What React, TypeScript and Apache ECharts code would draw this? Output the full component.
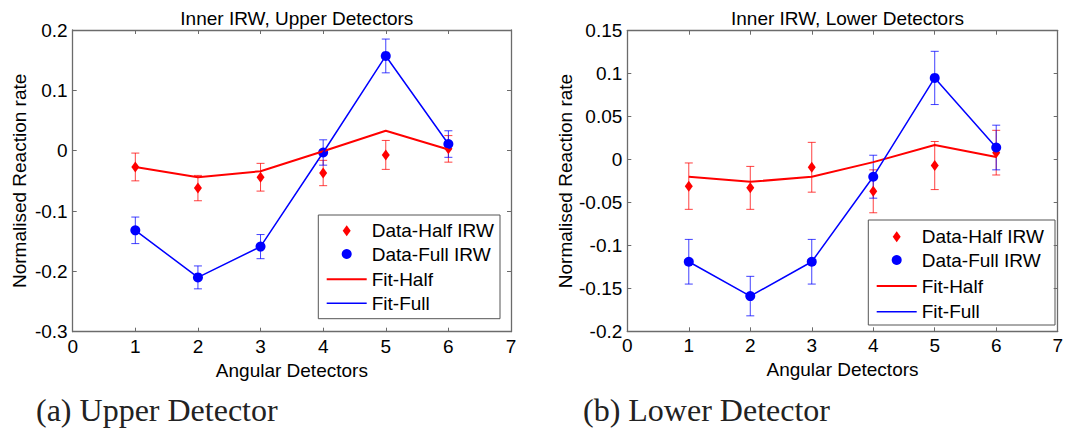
import React, { useEffect, useRef } from "react";
import * as echarts from "echarts";

// ---------- data ----------
const detectors = [1, 2, 3, 4, 5, 6];

// Upper detectors
const upperHalfData = [-0.027, -0.062, -0.044, -0.037, -0.007, 0.003];
const upperHalfErr = [0.023, 0.021, 0.023, 0.021, 0.024, 0.022];
const upperFullData = [-0.132, -0.21, -0.159, -0.003, 0.157, 0.011];
const upperFullErr = [0.022, 0.019, 0.02, 0.021, 0.028, 0.022];
const upperHalfFit = [-0.027, -0.044, -0.034, -0.001, 0.033, 0.002];
const upperFullFit = [-0.132, -0.21, -0.159, -0.003, 0.157, 0.011];

// Lower detectors
const lowerHalfData = [-0.031, -0.033, -0.009, -0.037, -0.007, 0.008];
const lowerHalfErr = [0.027, 0.025, 0.029, 0.025, 0.028, 0.026];
const lowerFullData = [-0.119, -0.159, -0.119, -0.02, 0.095, 0.014];
const lowerFullErr = [0.026, 0.023, 0.026, 0.025, 0.031, 0.026];
const lowerHalfFit = [-0.02, -0.026, -0.02, -0.003, 0.017, 0.003];
const lowerFullFit = [-0.119, -0.159, -0.119, -0.02, 0.095, 0.014];

const titles = ["Inner IRW, Upper Detectors", "Inner IRW, Lower Detectors"];
const captions = ["(a) Upper Detector", "(b) Lower Detector"];
const legendNames = ["Data-Half IRW", "Data-Full IRW", "Fit-Half", "Fit-Full"];
const xName = "Angular Detectors";
const yName = "Normalised Reaction rate";
const xRange = { min: 0, max: 7, interval: 1 };
const upperY = { min: -0.3, max: 0.2, interval: 0.1 };
const lowerY = { min: -0.2, max: 0.15, interval: 0.05 };

// ---------- styling ----------
const SANS = "Liberation Sans, Arial, Helvetica, sans-serif";
const SERIF = "Liberation Serif, Times New Roman, serif";
const RED = "#ff0000";
const BLUE = "#0000ff";
const AXIS = "#6b6b6b";
const FS = 19;

const grids = [
  { left: 72.7, top: 30, width: 438.3, height: 301.7 },
  { left: 627.3, top: 30.7, width: 430.4, height: 300.6 },
];

const pairs = (ys: number[]) => detectors.map((d, i) => [d, ys[i]]);
const errRows = (ys: number[], es: number[]) =>
  detectors.map((d, i) => [d, ys[i] - es[i], ys[i] + es[i]]);

const fmt = (v: number) => {
  const r = Math.round(v * 1000) / 1000;
  return String(r === 0 ? 0 : r);
};

function errSeries(idx: number, color: string, data: number[][]) {
  return {
    type: "custom",
    xAxisIndex: idx,
    yAxisIndex: idx,
    z: 2,
    silent: true,
    data,
    renderItem: (_p: any, api: any) => {
      const x = api.value(0);
      const lo = api.coord([x, api.value(1)]);
      const hi = api.coord([x, api.value(2)]);
      const w = 4;
      const style = { stroke: color, lineWidth: 1, opacity: 0.75 };
      return {
        type: "group",
        children: [
          { type: "line", shape: { x1: lo[0], y1: lo[1], x2: hi[0], y2: hi[1] }, style },
          { type: "line", shape: { x1: lo[0] - w, y1: lo[1], x2: lo[0] + w, y2: lo[1] }, style },
          { type: "line", shape: { x1: hi[0] - w, y1: hi[1], x2: hi[0] + w, y2: hi[1] }, style },
        ],
      };
    },
  };
}

function panelSeries(
  idx: number,
  halfData: number[],
  halfErr: number[],
  fullData: number[],
  fullErr: number[],
  halfFit: number[],
  fullFit: number[]
) {
  return [
    errSeries(idx, RED, errRows(halfData, halfErr)),
    errSeries(idx, BLUE, errRows(fullData, fullErr)),
    {
      name: legendNames[0],
      type: "scatter",
      xAxisIndex: idx,
      yAxisIndex: idx,
      symbol: "diamond",
      symbolSize: [8, 11],
      itemStyle: { color: RED, opacity: 1 },
      z: 3,
      data: pairs(halfData),
    },
    {
      name: legendNames[1],
      type: "scatter",
      xAxisIndex: idx,
      yAxisIndex: idx,
      symbol: "circle",
      symbolSize: 10,
      itemStyle: { color: BLUE, opacity: 1 },
      z: 3,
      data: pairs(fullData),
    },
    {
      name: legendNames[2],
      type: "line",
      xAxisIndex: idx,
      yAxisIndex: idx,
      showSymbol: false,
      lineStyle: { color: RED, width: 2 },
      z: 4,
      data: pairs(halfFit),
    },
    {
      name: legendNames[3],
      type: "line",
      xAxisIndex: idx,
      yAxisIndex: idx,
      showSymbol: false,
      lineStyle: { color: BLUE, width: 1.5 },
      z: 4,
      data: pairs(fullFit),
    },
  ];
}

function legendBox(x: number, y: number, w: number, h: number, rowYs: number[]) {
  const mx = x + 28.4;
  const children: any[] = [
    {
      type: "rect",
      shape: { x, y, width: w, height: h },
      style: { fill: "#ffffff", stroke: "#555555", lineWidth: 1 },
    },
    {
      type: "polygon",
      shape: {
        points: [
          [mx, rowYs[0] - 5.5],
          [mx + 4, rowYs[0]],
          [mx, rowYs[0] + 5.5],
          [mx - 4, rowYs[0]],
        ],
      },
      style: { fill: RED },
    },
    { type: "circle", shape: { cx: mx, cy: rowYs[1], r: 5 }, style: { fill: BLUE } },
    {
      type: "line",
      shape: { x1: x + 8.4, y1: rowYs[2], x2: x + 48.4, y2: rowYs[2] },
      style: { stroke: RED, lineWidth: 2 },
    },
    {
      type: "line",
      shape: { x1: x + 8.4, y1: rowYs[3], x2: x + 48.4, y2: rowYs[3] },
      style: { stroke: BLUE, lineWidth: 1.5 },
    },
  ];
  rowYs.forEach((ry, i) => {
    children.push({
      type: "text",
      x: x + 53.4,
      y: ry,
      style: {
        text: legendNames[i],
        font: `${FS}px ${SANS}`,
        fill: "#000",
        verticalAlign: "middle",
        align: "left",
      },
    });
  });
  return { type: "group", z: 10, children };
}

export default function App() {
  const ref = useRef<HTMLDivElement>(null);

  useEffect(() => {
    document.body.style.margin = "0";
    if (!ref.current) return;
    const chart = echarts.init(ref.current, null, { renderer: "svg" });

    const axisLine = { show: true, onZero: false, lineStyle: { color: AXIS, width: 1.3 } };
    const tick = { show: true, inside: true, length: 4, lineStyle: { color: AXIS } };
    const label = { color: "#000", fontSize: FS, fontFamily: SANS };

    const xAxisFor = (i: number, pos: string) => ({
      type: "value",
      gridIndex: i,
      ...xRange,
      position: pos,
      axisLine,
      axisTick: tick,
      splitLine: { show: false },
      axisLabel:
        pos === "bottom"
          ? { ...label, margin: 5, showMaxLabel: true, showMinLabel: true }
          : { show: false },
      ...(pos === "bottom"
        ? {
            name: xName,
            nameLocation: "middle",
            nameGap: 28,
            nameTextStyle: { color: "#000", fontSize: FS, fontFamily: SANS },
          }
        : {}),
    });
    const yAxisFor = (i: number, r: any, pos: string, gap: number) => ({
      type: "value",
      gridIndex: i,
      min: r.min,
      max: r.max,
      interval: r.interval,
      position: pos,
      axisLine,
      axisTick: tick,
      splitLine: { show: false },
      axisLabel:
        pos === "left"
          ? { ...label, margin: 5, formatter: fmt, showMaxLabel: true, showMinLabel: true }
          : { show: false },
      ...(pos === "left"
        ? {
            name: yName,
            nameLocation: "middle",
            nameGap: gap,
            nameTextStyle: { color: "#000", fontSize: FS, fontFamily: SANS },
          }
        : {}),
    });

    const captionText = (i: number, x: number) => ({
      type: "text",
      x,
      y: 410,
      style: {
        text: captions[i],
        font: `32px ${SERIF}`,
        fill: "#222",
        verticalAlign: "middle",
        align: "left",
      },
    });

    const option: any = {
      animation: false,
      backgroundColor: "#ffffff",
      title: titles.map((t, i) => ({
        text: t,
        left: grids[i].left + grids[i].width / 2,
        top: 4,
        textAlign: "center",
        textStyle: { color: "#000", fontSize: FS, fontWeight: "normal", fontFamily: SANS },
      })),
      grid: grids.map((g) => ({ ...g, containLabel: false })),
      xAxis: [xAxisFor(0, "bottom"), xAxisFor(1, "bottom"), xAxisFor(0, "top"), xAxisFor(1, "top")],
      yAxis: [
        yAxisFor(0, upperY, "left", 44),
        yAxisFor(1, lowerY, "left", 52),
        yAxisFor(0, upperY, "right", 0),
        yAxisFor(1, lowerY, "right", 0),
      ],
      series: [
        ...panelSeries(0, upperHalfData, upperHalfErr, upperFullData, upperFullErr, upperHalfFit, upperFullFit),
        ...panelSeries(1, lowerHalfData, lowerHalfErr, lowerFullData, lowerFullErr, lowerHalfFit, lowerFullFit),
      ],
      graphic: [
        legendBox(318.3, 215, 181.7, 103.7, [230.7, 254, 279.3, 303.3]),
        legendBox(868.3, 220, 186.7, 105, [236.7, 260, 286, 311.7]),
        captionText(0, 36),
        captionText(1, 583),
      ],
    };
    chart.setOption(option);
    return () => chart.dispose();
  }, []);

  return <div ref={ref} style={{ width: 1066, height: 432 }} />;
}
